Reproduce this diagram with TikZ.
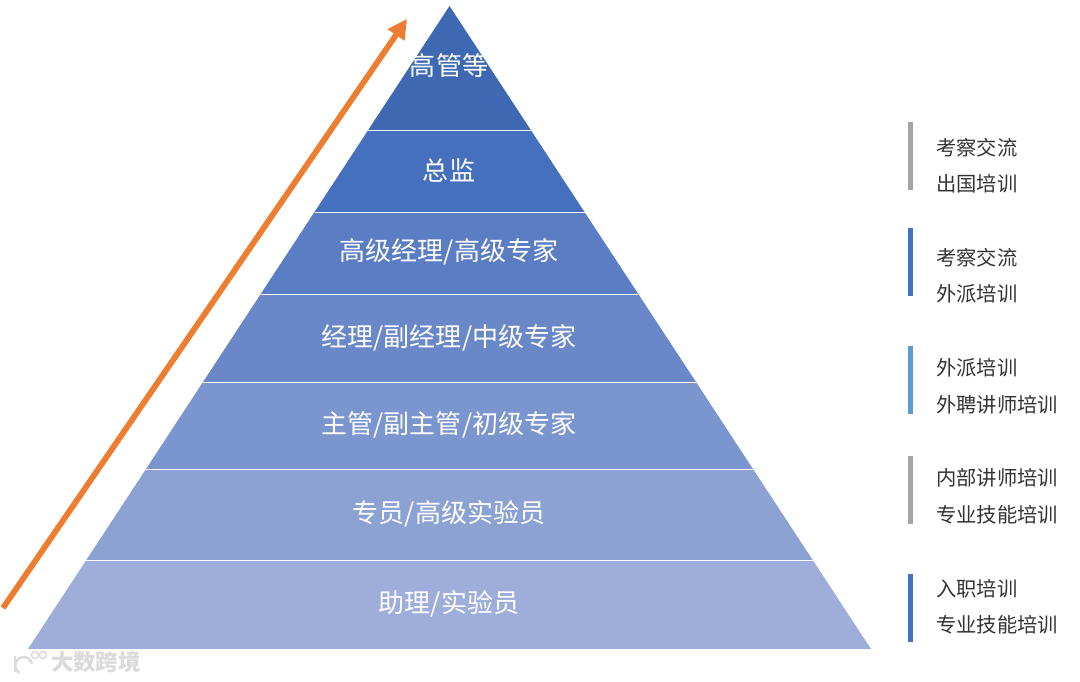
\documentclass[tikz,border=0pt]{standalone}
\usepackage{fontspec}
\usetikzlibrary{arrows.meta}
\setmainfont{Noto Sans CJK SC}
\definecolor{lva}{HTML}{3E68B1}
\definecolor{lvb}{HTML}{4570BE}
\definecolor{lvc}{HTML}{5A7DC3}
\definecolor{lvd}{HTML}{6A88C8}
\definecolor{lve}{HTML}{7B95CE}
\definecolor{lvf}{HTML}{8CA2D3}
\definecolor{lvg}{HTML}{9EADD9}
\definecolor{arrowc}{HTML}{ED7D31}
\definecolor{barg}{HTML}{A5A5A5}
\definecolor{barb}{HTML}{4472C4}
\definecolor{barl}{HTML}{5B9BD5}
\begin{document}
\begin{tikzpicture}[x=0.02cm,y=-0.02cm]
    \tikzstyle{lv} = [draw=white,line width=0.4pt] %pyramid layer
    \tikzstyle{lt} = [text=white,font=\fontsize{14.8}{16}\selectfont] %layer text
    \tikzstyle{rt} = [anchor=west,inner sep=0pt,text=black!80,font=\fontsize{11.55}{13}\selectfont] %right text
    \tikzstyle{sb} = [line width=2.85pt] %side bar
    \tikzstyle{wm} = [text=black!14,font=\fontsize{12.8}{14}\bfseries\selectfont] %watermark
    \useasboundingbox(0,0)rectangle(1080,682);
    % pyramid corners
    \coordinate(ct)at(449.5,6);
    \coordinate(al)at(368.2,130);\coordinate(ar)at(530.8,130);
    \coordinate(bl)at(314.5,212);\coordinate(br)at(584.5,212);
    \coordinate(cl)at(260.7,294);\coordinate(cr)at(638.3,294);
    \coordinate(dl)at(203,382);\coordinate(dr)at(696,382);
    \coordinate(el)at(146,469);\coordinate(er)at(753,469);
    \coordinate(fl)at(86.3,560);\coordinate(fr)at(812.7,560);
    \coordinate(gl)at(28,649);\coordinate(gr)at(871,649);
    \fill[lva](ct)--(ar)--(al)--cycle;
    \fill[lvb](al)--(ar)--(br)--(bl)--cycle;
    \fill[lvc](bl)--(br)--(cr)--(cl)--cycle;
    \fill[lvd](cl)--(cr)--(dr)--(dl)--cycle;
    \fill[lve](dl)--(dr)--(er)--(el)--cycle;
    \fill[lvf](el)--(er)--(fr)--(fl)--cycle;
    \fill[lvg](fl)--(fr)--(gr)--(gl)--cycle;
    \draw[lv](al)--(ar);
    \draw[lv](bl)--(br);
    \draw[lv](cl)--(cr);
    \draw[lv](dl)--(dr);
    \draw[lv](el)--(er);
    \draw[lv](fl)--(fr);
    % layer labels
    \node[lt](ta)at(449,66){高管等};
    \node[lt](tb)at(449,170){总监};
    \node[lt](tc)at(449,252){高级经理/高级专家};
    \node[lt](td)at(449,338){经理/副经理/中级专家};
    \node[lt](te)at(449,425){主管/副主管/初级专家};
    \node[lt](tf)at(449,514){专员/高级实验员};
    \node[lt](tg)at(449,604){助理/实验员};
    % rising arrow
    \coordinate(as)at(3,608);
    \coordinate(ae)at(407,19);
    \draw[arrowc,line width=3.3pt,-{Triangle[length=11pt,width=11pt]}](as)--(ae);
    % side bars
    \coordinate(ba)at(910.5,122);\coordinate(bb)at(910.5,190);
    \coordinate(bc)at(910.5,228);\coordinate(bd)at(910.5,296);
    \coordinate(be)at(910.5,346);\coordinate(bf)at(910.5,414);
    \coordinate(bg)at(910.5,456);\coordinate(bh)at(910.5,524);
    \coordinate(bi)at(910.5,574);\coordinate(bj)at(910.5,642);
    \draw[sb,barg](ba)--(bb);
    \draw[sb,barb](bc)--(bd);
    \draw[sb,barl](be)--(bf);
    \draw[sb,barg](bg)--(bh);
    \draw[sb,barb](bi)--(bj);
    % side labels
    \node[rt](ra)at(936,148){考察交流};
    \node[rt](rb)at(936,184){出国培训};
    \node[rt](rc)at(936,258){考察交流};
    \node[rt](rd)at(936,294){外派培训};
    \node[rt](re)at(936,368){外派培训};
    \node[rt](rf)at(936,405){外聘讲师培训};
    \node[rt](rg)at(936,478){内部讲师培训};
    \node[rt](rh)at(936,515){专业技能培训};
    \node[rt](ri)at(936,589){入职培训};
    \node[rt](rj)at(936,625){专业技能培训};
    % watermark
    \node[wm](wa)at(96,662){大数跨境};
    \draw[black!14,line width=1.4pt](15,656)--(15,672);
    \draw[black!14,line width=1.4pt](32,664)arc(-10:-240:8.5);
    \draw[black!14,line width=0.9pt](35,655)circle(3.6);
    \draw[black!14,line width=0.9pt](43,655)circle(3.6);
\end{tikzpicture}
\end{document}
